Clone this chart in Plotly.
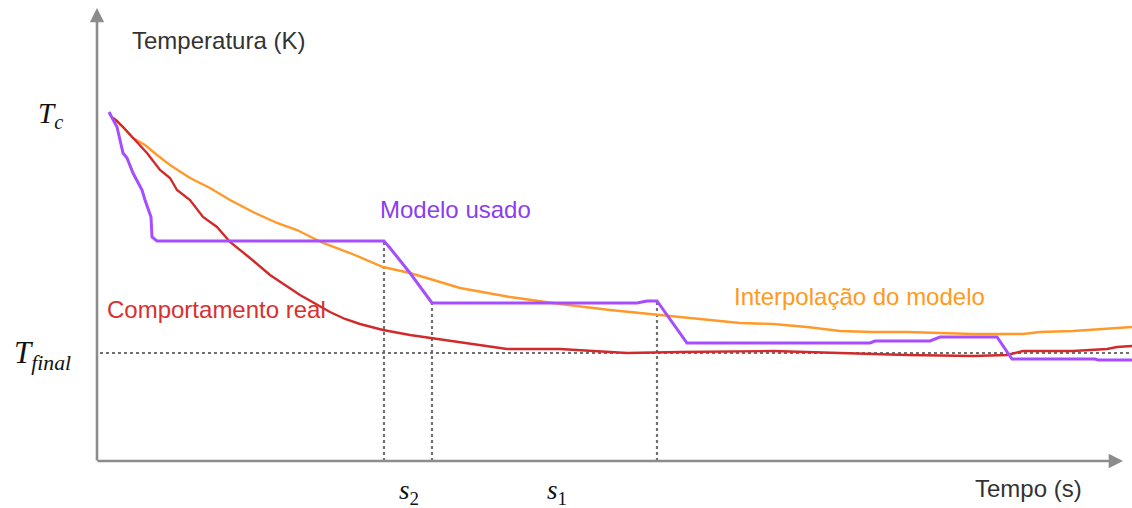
import plotly.graph_objects as go

# ---- data (time in arbitrary units, temperature in arbitrary units) ----
modelo_t = [12, 20, 26, 30, 36, 45, 48, 52, 54, 55, 60, 287, 293, 313, 335, 540, 550, 560, 590,
            773, 778, 833, 838, 843, 900, 915, 998, 1001, 1035]
modelo_T = [349, 334, 308, 303, 288, 271, 261, 248, 244, 224, 220, 220, 213, 188, 158, 158, 160, 160, 118,
            118, 120, 120, 122, 124, 124, 102, 102, 101, 101]

interp_t = [15, 26, 36, 48, 60, 73, 93, 113, 133, 156, 180, 200, 226, 253, 286, 313, 363, 413, 463, 513,
            563, 583, 610, 643, 676, 710, 743, 776, 810, 843, 876, 926, 943, 976, 1010, 1035]
interp_T = [344, 334, 323, 316, 306, 296, 283, 273, 261, 249, 238, 231, 218, 208, 194, 188, 173, 164, 157, 151,
            146, 144, 141, 138, 137, 134, 130, 129, 129, 128, 127, 127, 129, 130, 132, 134]

real_t = [16, 20, 26, 36, 50, 63, 73, 80, 93, 106, 120, 133, 153, 173, 203, 233, 248, 263, 286, 313, 333,
          363, 390, 410, 463, 530, 583, 676, 743, 810, 876, 910, 926, 976, 1010, 1020, 1035]
real_T = [343, 340, 334, 323, 308, 291, 283, 271, 261, 244, 234, 219, 203, 186, 166, 149, 142, 137, 131, 126, 123,
          119, 115, 112, 112, 108, 109, 110, 108, 106, 105, 106, 110, 110, 112, 114, 115]

T_c = 343
T_final = 108
t_end = 1035
s_lines_t = [287, 335, 560]          # vertical dotted markers
s_lines_top = [220, 158, 160]
s_labels = ["2", "1"]
s_labels_t = [312, 460]

# ---- colours ----
PURPLE = "#a64dff"
ORANGE = "#ff9a2a"
RED = "#d12a2a"
AXIS = "#8c8c8c"
DOT = "#707070"

fig = go.Figure()

# dotted guides
fig.add_trace(go.Scatter(x=[3, t_end], y=[T_final, T_final], mode="lines",
                         line=dict(color=DOT, width=2.2, dash="dot"), hoverinfo="skip"))
for t, top in zip(s_lines_t, s_lines_top):
    fig.add_trace(go.Scatter(x=[t, t], y=[0, top], mode="lines",
                             line=dict(color=DOT, width=2.2, dash="dot"), hoverinfo="skip"))

fig.add_trace(go.Scatter(x=interp_t, y=interp_T, mode="lines", line=dict(color=ORANGE, width=2.4)))
fig.add_trace(go.Scatter(x=real_t, y=real_T, mode="lines", line=dict(color=RED, width=2.4)))
fig.add_trace(go.Scatter(x=modelo_t, y=modelo_T, mode="lines", line=dict(color=PURPLE, width=3)))

# axes as arrows
fig.add_annotation(x=0, y=453, ax=0, ay=-1, xref="x", yref="y", axref="x", ayref="y",
                   showarrow=True, arrowhead=2, arrowsize=1.1, arrowwidth=2.6, arrowcolor=AXIS, text="")
fig.add_annotation(x=1026, y=0, ax=-1, ay=0, xref="x", yref="y", axref="x", ayref="y",
                   showarrow=True, arrowhead=2, arrowsize=1.1, arrowwidth=2.6, arrowcolor=AXIS, text="")

SANS = "Liberation Sans, Arial, sans-serif"
SERIF = "Liberation Serif, Times New Roman, serif"

def label(text, x, y, color, size=24, font=SANS, xanchor="left"):
    fig.add_annotation(x=x, y=y, xref="x", yref="y", text=text, showarrow=False,
                       xanchor=xanchor, yanchor="middle",
                       font=dict(family=font, size=size, color=color))

label("Temperatura (K)", 33, 421, "#333333")
label("Tempo (s)", 876, -27, "#333333")
label("Modelo usado", 281, 252, "#8a3ef0")
label("Comportamento real", 8, 152, "#d93030")
label("Interpolação do modelo", 635, 165, "#ff9a1a")

label("<i>T</i><sub><i>c</i></sub>", -47, T_c + 3, "#111111", size=29, font=SERIF, xanchor="center")
label("<i>T</i><sub><i>final</i></sub>", -55, T_final - 2, "#111111", size=31, font=SERIF, xanchor="center")
for txt, t in zip(s_labels, s_labels_t):
    label("<i>s</i><sub>" + txt + "</sub>", t, -31, "#111111", size=27, font=SERIF, xanchor="center")

fig.update_layout(
    width=1132, height=508,
    margin=dict(l=0, r=0, t=0, b=0),
    paper_bgcolor="white", plot_bgcolor="white",
    showlegend=False,
    xaxis=dict(range=[-97, 1035], visible=False, fixedrange=True),
    yaxis=dict(range=[-47, 461], visible=False, fixedrange=True),
)

fig.write_html("out.html", config={"displayModeBar": False},
               post_script="document.body.style.margin='0';document.body.style.overflow='hidden';")
